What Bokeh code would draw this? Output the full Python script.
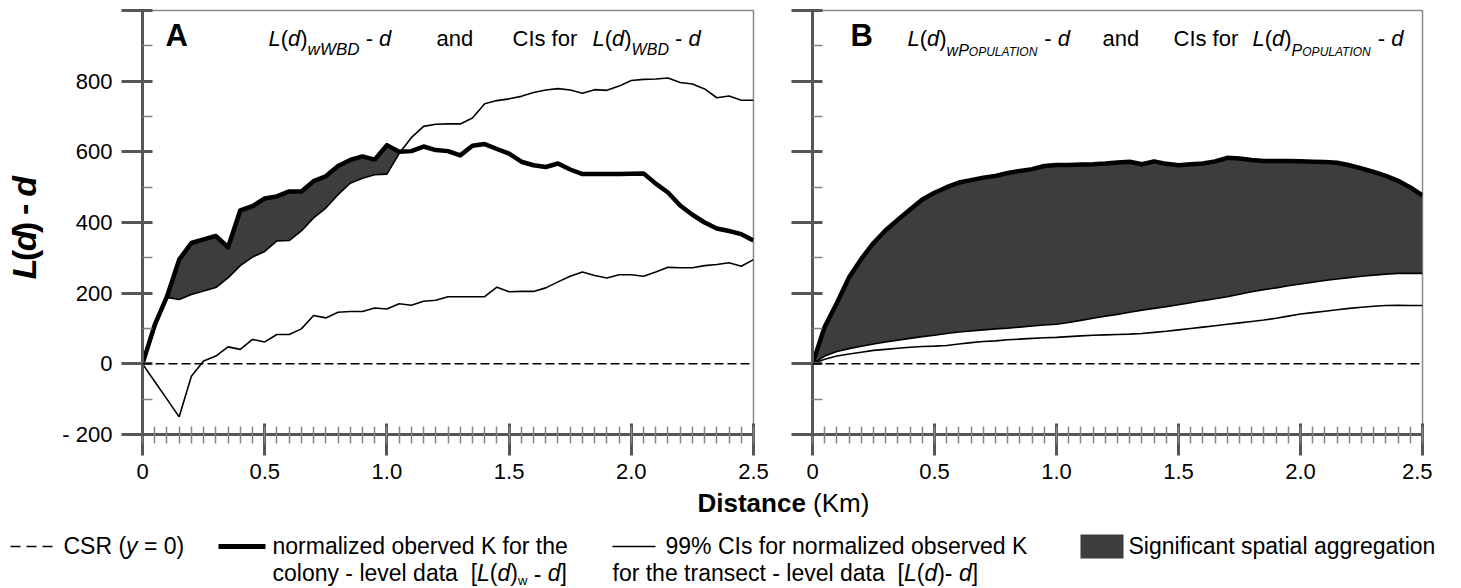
import numpy as np
from bokeh.plotting import figure
from bokeh.models import Range1d, FixedTicker, Span
from bokeh.layouts import row, column
from bokeh.embed import file_html
from bokeh.resources import INLINE
from bokeh.core.properties import value

# ---------------- data ----------------
distance = [0.0, 0.05, 0.1, 0.15, 0.2, 0.25, 0.3, 0.35, 0.4, 0.45,
            0.5, 0.55, 0.6, 0.65, 0.7, 0.75, 0.8, 0.85, 0.9, 0.95,
            1.0, 1.05, 1.1, 1.15, 1.2, 1.25, 1.3, 1.35, 1.4, 1.45,
            1.5, 1.55, 1.6, 1.65, 1.7, 1.75, 1.8, 1.85, 1.9, 1.95,
            2.0, 2.05, 2.1, 2.15, 2.2, 2.25, 2.3, 2.35, 2.4, 2.45, 2.5]

a_observed = [0, 110, 190, 295, 342, 352, 362, 330, 434, 446,
              468, 474, 488, 488, 517, 531, 560, 577, 587, 578,
              619, 600, 602, 615, 605, 602, 590, 617, 622, 608,
              595, 572, 562, 557, 567, 550, 537, 537, 537, 537,
              538, 539, 510, 485, 448, 422, 400, 383, 376, 367, 349]
a_ci_upper = [0, 100, 188, 182, 196, 206, 216, 243, 278, 302,
              318, 348, 349, 376, 413, 441, 479, 511, 525, 535,
              537, 595, 640, 672, 678, 679, 679, 696, 736, 745,
              750, 757, 768, 775, 779, 775, 766, 776, 774, 786,
              802, 805, 806, 809, 796, 792, 778, 753, 758, 746, 746]
a_ci_lower = [0, -50, -100, -150, -35, 8, 22, 48, 41, 69,
              62, 83, 83, 99, 137, 130, 146, 148, 148, 158,
              155, 170, 166, 177, 180, 190, 190, 190, 190, 217,
              204, 205, 205, 215, 232, 248, 260, 250, 243, 252,
              252, 248, 260, 273, 272, 272, 278, 281, 286, 276, 295]

b_observed = [0, 105, 172, 245, 297, 342, 378, 408, 437, 465,
              484, 500, 513, 520, 527, 532, 540, 546, 551, 560,
              563, 563, 564, 565, 567, 570, 572, 565, 573, 566,
              562, 565, 567, 573, 583, 581, 577, 574, 574, 574,
              573, 572, 571, 569, 562, 553, 543, 532, 518, 499, 477]
b_ci_upper = [0, 22, 35, 43, 50, 56, 62, 67, 72, 77,
              81, 86, 90, 93, 96, 99, 101, 104, 107, 110,
              112, 117, 123, 129, 135, 140, 146, 152, 157, 162,
              167, 173, 179, 184, 190, 197, 204, 210, 215, 221,
              226, 231, 236, 240, 244, 248, 251, 254, 256, 256, 256]
b_ci_lower = [0, 13, 22, 28, 33, 38, 41, 44, 47, 49,
              50, 52, 56, 60, 63, 65, 68, 70, 72, 74,
              75, 77, 79, 81, 82, 83, 84, 86, 89, 92,
              96, 100, 104, 108, 112, 116, 120, 124, 129, 135,
              141, 145, 149, 153, 157, 160, 163, 165, 166, 165, 165]

x_ticks = [0, 0.5, 1.0, 1.5, 2.0, 2.5]
x_tick_labels = ["0", "0.5", "1.0", "1.5", "2.0", "2.5"]
y_ticks = [-200, 0, 200, 400, 600, 800, 1000]
y_tick_labels = ["- 200", "0", "200", "400", "600", "800", ""]
y_minor = [-100, 100, 300, 500, 700, 900]

# ---------------- style ----------------
FONT = "Liberation Sans"
AX = "#565656"
MINOR = "#858585"
FILL = "#3d3d3d"
BASE_SHIFT = 0.35   # empirical offset of the rendered text baseline

REG = {' ': 278, '!': 278, '%': 889, '(': 333, ')': 333, '-': 333, '.': 278, '=': 584,
       '[': 278, ']': 278, 'A': 667, 'B': 667, 'C': 722, 'D': 722, 'I': 278, 'K': 667,
       'L': 556, 'N': 722, 'O': 778, 'P': 667, 'R': 722, 'S': 667, 'T': 611, 'U': 722,
       'W': 944, 'a': 556, 'b': 556, 'c': 500, 'd': 556, 'e': 556, 'f': 278, 'g': 556,
       'h': 556, 'i': 222, 'k': 500, 'l': 222, 'm': 833, 'n': 556, 'o': 556, 'p': 556,
       'r': 333, 's': 500, 't': 278, 'v': 500, 'w': 722, 'y': 500, 'z': 500}
BOLD = {' ': 278, '(': 333, ')': 333, '-': 333, 'A': 722, 'B': 722, 'D': 722, 'K': 722,
        'L': 611, 'a': 556, 'c': 556, 'd': 611, 'e': 556, 'i': 278, 'n': 611, 's': 556,
        't': 333, 'm': 889}


def tw(s, size, bold=False):
    tab = BOLD if bold else REG
    return sum(tab.get(ch, 556) for ch in s) * size / 1000.0


def seq(p, conv, x0, y0, pieces):
    x = x0
    for t, size, style, dy in pieces:
        bold = "bold" in style
        lead = len(t) - len(t.lstrip(" "))
        s = t.strip(" ")
        if s:
            xd, yd = conv(x + tw(" " * lead, size, bold), y0 + dy - BASE_SHIFT * size)
            p.text(x=[xd], y=[yd], text=[s], text_font=value(FONT),
                   text_font_size=f"{size}px", text_font_style=style,
                   text_align="left", text_baseline="alphabetic", text_color="black")
        x += tw(t, size, bold)
    return x


FRAME_TOP = 10
FRAME_H = 424
PANEL_H = 486


def make_panel(obs, up, lo, fig_w, b_left, b_right, ylabels):
    p = figure(width=fig_w, height=PANEL_H, x_range=Range1d(0, 2.5), y_range=Range1d(-200, 1000),
               output_backend="svg", toolbar_location=None,
               min_border_left=b_left, min_border_right=b_right,
               min_border_top=FRAME_TOP, min_border_bottom=PANEL_H - FRAME_TOP - FRAME_H)
    p.grid.visible = False
    p.outline_line_color = "#8a8a8a"
    p.outline_line_width = 1.5
    top = np.maximum(np.array(obs, float), np.array(up, float))
    p.varea(x=distance, y1=up, y2=top, fill_color=FILL)
    p.add_layout(Span(location=0, dimension="width", line_color="black",
                      line_width=1.5, line_dash="9 4"))
    p.line(distance, lo, line_color="black", line_width=1.6)
    p.line(distance, up, line_color="black", line_width=1.6)
    p.line(distance, obs, line_color="black", line_width=4.5, line_join="round")

    xa = p.xaxis[0]
    xa.ticker = FixedTicker(ticks=x_ticks, minor_ticks=distance)
    xa.major_label_overrides = dict(zip(x_ticks, x_tick_labels))
    xa.axis_line_color = AX
    xa.axis_line_width = 3
    xa.major_tick_line_color = AX
    xa.major_tick_line_width = 3
    xa.major_tick_in = 11
    xa.major_tick_out = 21
    xa.minor_tick_line_color = MINOR
    xa.minor_tick_line_width = 1.5
    xa.minor_tick_in = 8
    xa.minor_tick_out = 9
    xa.major_label_text_font = FONT
    xa.major_label_text_font_size = "22px"
    xa.major_label_text_color = "black"
    xa.major_label_standoff = 8

    ya = p.yaxis[0]
    ya.ticker = FixedTicker(ticks=y_ticks, minor_ticks=y_minor)
    ya.major_label_overrides = dict(zip(y_ticks, ylabels))
    ya.axis_line_color = AX
    ya.axis_line_width = 3
    ya.major_tick_line_color = AX
    ya.major_tick_line_width = 3
    ya.major_tick_in = 10
    ya.major_tick_out = 21
    ya.minor_tick_line_color = MINOR
    ya.minor_tick_line_width = 1.5
    ya.minor_tick_in = 10
    ya.minor_tick_out = 0
    ya.major_label_text_font = FONT
    ya.major_label_text_font_size = "22px"
    ya.major_label_text_color = "black"
    ya.major_label_standoff = 9
    return p


def panel_conv(frame_left, frame_w):
    def conv(px, py):
        return ((px - frame_left) / frame_w * 2.5,
                1000 - (py - FRAME_TOP) / FRAME_H * 1200)
    return conv


TITLE_W = 58
A_W, A_BL, A_BR = 712, 84, 17
B_W, B_BL, B_BR = 662, 42, 10
A_LEFT = TITLE_W + A_BL
B_LEFT = TITLE_W + A_W + B_BL

pa = make_panel(a_observed, a_ci_upper, a_ci_lower, A_W, A_BL, A_BR, y_tick_labels)
pb = make_panel(b_observed, b_ci_upper, b_ci_lower, B_W, B_BL, B_BR, [""] * len(y_ticks))

ca = panel_conv(A_LEFT, A_W - A_BL - A_BR)
cb = panel_conv(B_LEFT, B_W - B_BL - B_BR)

T = 22
S = 17
# panel A title
seq(pa, ca, 165, 46, [("A", 31, "bold", 0)])
seq(pa, ca, 268, 46, [("L", T, "italic", 0), ("(", T, "normal", 0), ("d", T, "italic", 0),
                      (")", T, "normal", 0), ("wWBD", S, "italic", 9), (" -", T, "normal", 0),
                      (" d", T, "italic", 0)])
seq(pa, ca, 436, 46, [("and", T, "normal", 0)])
seq(pa, ca, 512, 46, [("CIs for", T, "normal", 0)])
seq(pa, ca, 592, 46, [("L", T, "italic", 0), ("(", T, "normal", 0), ("d", T, "italic", 0),
                      (")", T, "normal", 0), ("WBD", 16, "italic", 9), (" -", T, "normal", 0),
                      (" d", T, "italic", 0)])
# panel B title
seq(pb, cb, 850, 46, [("B", 31, "bold", 0)])
seq(pb, cb, 907, 46, [("L", T, "italic", 0), ("(", T, "normal", 0), ("d", T, "italic", 0),
                      (")", T, "normal", 0), ("w", 16, "italic", 10), ("P", 16, "italic", 10),
                      ("OPULATION", 12, "italic", 10), (" -", T, "normal", 0),
                      (" d", T, "italic", 0)])
seq(pb, cb, 1102, 46, [("and", T, "normal", 0)])
seq(pb, cb, 1173, 46, [("CIs for", T, "normal", 0)])
seq(pb, cb, 1252, 46, [("L", T, "italic", 0), ("(", T, "normal", 0), ("d", T, "italic", 0),
                       (")", T, "normal", 0), ("P", 16, "italic", 10),
                       ("OPULATION", 12, "italic", 10), (" -", T, "normal", 0),
                       (" d", T, "italic", 0)])

# ---------------- y-axis title (rotated) ----------------
pt = figure(width=TITLE_W, height=PANEL_H, x_range=Range1d(0, TITLE_W), y_range=Range1d(0, PANEL_H),
            output_backend="svg", toolbar_location=None, min_border=0,
            x_axis_location=None, y_axis_location=None)
pt.grid.visible = False
pt.outline_line_color = None
YT = 34
ypos = PANEL_H - 308
for t, style in [("L", "bold italic"), ("(", "bold"), ("d", "bold italic"), (")", "bold"),
                 (" -", "bold"), (" d", "bold italic")]:
    lead = len(t) - len(t.lstrip(" "))
    s = t.strip(" ")
    pt.text(x=[23], y=[ypos + tw(" " * lead, YT, True)], text=[s], angle=np.pi / 2,
            text_font=value(FONT), text_font_size=f"{YT}px", text_font_style=style,
            text_align="left", text_baseline="alphabetic", text_color="black")
    ypos += tw(t, YT, True)

# ---------------- bottom: x title + legend ----------------
BOT_TOP = PANEL_H
BOT_H = 588 - PANEL_H
BOT_W = 1461
pl = figure(width=BOT_W, height=BOT_H, x_range=Range1d(0, BOT_W), y_range=Range1d(BOT_H, 0),
            output_backend="svg", toolbar_location=None, min_border=0,
            x_axis_location=None, y_axis_location=None)
pl.grid.visible = False
pl.outline_line_color = None


def cl(px, py):
    return px, py - BOT_TOP


seq(pl, cl, 697, 512, [("Distance", 26, "bold", 0), (" (Km)", 26, "normal", 0)])

R1 = 554
R2 = 581
L = 23
ly = 546 - BOT_TOP
pl.line([10, 53], [ly, ly], line_color="black", line_width=1.5, line_dash="10 6")
pl.line([218, 265], [ly, ly], line_color="black", line_width=5)
pl.line([612, 655], [ly, ly], line_color="black", line_width=1.5)
pl.quad(left=[1080], right=[1123], top=[534 - BOT_TOP], bottom=[558 - BOT_TOP],
        fill_color=FILL, line_color=None)

seq(pl, cl, 63, R1, [("CSR (", L, "normal", 0), ("y", L, "italic", 0), (" = 0)", L, "normal", 0)])
seq(pl, cl, 272, R1, [("normalized oberved K for the", L, "normal", 0)])
seq(pl, cl, 272, R2, [("colony - level data", L, "normal", 0), ("  [", L, "normal", 0),
                      ("L", L, "italic", 0), ("(", L, "normal", 0), ("d", L, "italic", 0),
                      (")", L, "normal", 0), ("w", 13, "normal", 4), (" -", L, "normal", 0),
                      (" d", L, "italic", 0), ("]", L, "normal", 0)])
seq(pl, cl, 665, R1, [("99% CIs for normalized observed K", L, "normal", 0)])
seq(pl, cl, 612, R2, [("for the transect - level data", L, "normal", 0), ("  [", L, "normal", 0),
                      ("L", L, "italic", 0), ("(", L, "normal", 0), ("d", L, "italic", 0),
                      (")-", L, "normal", 0), (" d", L, "italic", 0), ("]", L, "normal", 0)])
seq(pl, cl, 1128, R1, [("Significant spatial aggregation", L, "normal", 0)])

layout = column(row(pt, pa, pb), pl, spacing=0)
open("out.html", "w").write(file_html(layout, INLINE))
